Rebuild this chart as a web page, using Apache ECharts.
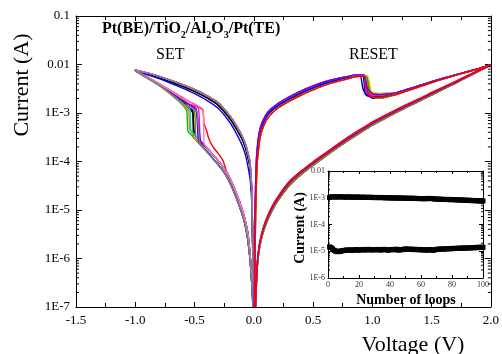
<!DOCTYPE html>
<html><head><meta charset="utf-8">
<script src="https://cdn.jsdelivr.net/npm/echarts@6/dist/echarts.min.js"></script>
<style>html,body{margin:0;padding:0;background:#fff}#c{width:502px;height:354px}</style>
</head><body><div id="c"></div>
<script>
// ---------- Main I-V data (Voltage V, Current A) ----------
// Left HRS forward branches (0 -> negative), two variants of the band
const hrsLeftA = [[-0.005,1e-7],[-0.012,2.5e-7],[-0.02,5e-7],[-0.03,1.1e-6],[-0.04,2e-6],[-0.05,3.3e-6],[-0.075,6.5e-6],[-0.1,1.05e-5],[-0.15,2.3e-5],[-0.2,4.4e-5],[-0.25,7.2e-5],[-0.3,1.03e-4],[-0.35,1.42e-4],[-0.4,1.95e-4],[-0.45,2.65e-4],[-0.5,3.6e-4],[-0.55,4.8e-4]];
const hrsLeftB = [[-0.007,1e-7],[-0.015,2.5e-7],[-0.024,5.5e-7],[-0.034,1.1e-6],[-0.044,1.8e-6],[-0.055,2.9e-6],[-0.08,5.8e-6],[-0.105,9.2e-6],[-0.155,2e-5],[-0.205,3.8e-5],[-0.255,6.2e-5],[-0.305,8.9e-5],[-0.355,1.23e-4],[-0.405,1.7e-4],[-0.455,2.3e-4],[-0.505,3.1e-4],[-0.555,4.2e-4]];

// SET paths per cycle (after leaving the HRS branch, up to -1.0 V)
const setBlack   = [[-0.51,7e-4],[-0.515,1.1e-3],[-0.56,1.35e-3],[-0.6,1.75e-3],[-0.7,2.6e-3],[-0.8,3.85e-3],[-0.9,5.4e-3],[-1.0,7.6e-3]];
const setRed     = [[-0.23,6.2e-5],[-0.26,1.05e-4],[-0.3,1.45e-4],[-0.35,2.1e-4],[-0.38,3e-4],[-0.4,4.5e-4],[-0.42,6e-4],[-0.43,1.15e-3],[-0.5,1.5e-3],[-0.6,2.05e-3],[-0.7,2.9e-3],[-0.8,4.1e-3],[-0.9,5.6e-3],[-1.0,7.7e-3]];
const setGreen   = [[-0.565,1.1e-3],[-0.6,1.45e-3],[-0.7,2.4e-3],[-0.8,3.7e-3],[-0.9,5.25e-3],[-1.0,7.5e-3]];
const setBlue    = [[-0.47,3.3e-4],[-0.48,9e-4],[-0.49,1.25e-3],[-0.55,1.5e-3],[-0.6,1.85e-3],[-0.7,2.7e-3],[-0.8,3.95e-3],[-0.9,5.5e-3],[-1.0,7.6e-3]];
const setCyan    = [[-0.53,4.3e-4],[-0.54,1.2e-3],[-0.6,1.6e-3],[-0.7,2.55e-3],[-0.8,3.8e-3],[-0.9,5.35e-3],[-1.0,7.6e-3]];
const setMagenta = [[-0.46,7.5e-4],[-0.47,1.3e-3],[-0.55,1.55e-3],[-0.6,1.9e-3],[-0.7,2.8e-3],[-0.8,4e-3],[-0.9,5.5e-3],[-1.0,7.7e-3]];
const setYellow  = [[-0.52,1.15e-3],[-0.6,1.65e-3],[-0.7,2.5e-3],[-0.8,3.75e-3],[-0.9,5.3e-3],[-1.0,7.5e-3]];
const setOlive   = [[-0.49,3.4e-4],[-0.5,1.1e-3],[-0.56,1.4e-3],[-0.6,1.75e-3],[-0.7,2.65e-3],[-0.8,3.9e-3],[-0.9,5.4e-3],[-1.0,7.6e-3]];
const setNavy    = [[-0.51,3.3e-4],[-0.515,1e-3],[-0.6,1.6e-3],[-0.7,2.55e-3],[-0.8,3.8e-3],[-0.9,5.35e-3],[-1.0,7.55e-3]];
const setPurple  = [[-0.48,1e-3],[-0.5,1.25e-3],[-0.6,1.8e-3],[-0.7,2.7e-3],[-0.8,3.95e-3],[-0.9,5.45e-3],[-1.0,7.6e-3]];
const setOrange  = [[-0.52,3.8e-4],[-0.54,4.5e-4],[-0.545,7e-4],[-0.55,1.1e-3],[-0.6,1.5e-3],[-0.7,2.45e-3],[-0.8,3.75e-3],[-0.9,5.3e-3],[-1.0,7.5e-3]];
const setPink    = [[-0.42,2.4e-4],[-0.43,1.2e-3],[-0.5,1.55e-3],[-0.6,2e-3],[-0.7,2.85e-3],[-0.8,4.05e-3],[-0.9,5.55e-3],[-1.0,7.7e-3]];
const setGray    = [[-0.47,6e-4],[-0.48,1.1e-3],[-0.6,1.55e-3],[-0.7,2.45e-3],[-0.8,3.75e-3],[-0.9,5.3e-3],[-1.0,7.6e-3]];

// Left LRS return branches (-1.0 -> 0)
const retLeftA = [[-1.0,7.8e-3],[-0.9,6.7e-3],[-0.8,5.7e-3],[-0.7,4.7e-3],[-0.6,3.85e-3],[-0.5,3.05e-3],[-0.4,2.3e-3],[-0.3,1.62e-3],[-0.2,8.6e-4],[-0.15,5.6e-4],[-0.1,3.4e-4],[-0.07,2.25e-4],[-0.05,1.5e-4],[-0.035,1.05e-4],[-0.025,6e-5],[-0.018,2.8e-5],[-0.013,1e-5],[-0.009,1.5e-6],[-0.006,1e-7]];
const retLeftB = [[-1.0,7.6e-3],[-0.9,6.4e-3],[-0.8,5.4e-3],[-0.7,4.4e-3],[-0.6,3.55e-3],[-0.5,2.8e-3],[-0.4,2.1e-3],[-0.3,1.45e-3],[-0.2,7.6e-4],[-0.15,4.9e-4],[-0.1,2.95e-4],[-0.07,1.9e-4],[-0.05,1.25e-4],[-0.035,8.5e-5],[-0.025,5e-5],[-0.018,2.3e-5],[-0.013,8e-6],[-0.009,1.2e-6],[-0.006,1e-7]];
const retLeftBlue = [[-1.0,7.5e-3],[-0.9,6.2e-3],[-0.8,5.1e-3],[-0.7,4.1e-3],[-0.6,3.25e-3],[-0.5,2.5e-3],[-0.4,1.85e-3],[-0.3,1.25e-3],[-0.2,6.3e-4],[-0.15,3.9e-4],[-0.1,2.2e-4],[-0.07,1.35e-4],[-0.05,8e-5],[-0.035,5e-5],[-0.025,3e-5],[-0.018,1.5e-5],[-0.012,5e-6],[-0.007,8e-7],[-0.004,1e-7]];

// Right LRS forward branches (0 -> 0.8 V)
const lrsRightTop = [[0.004,1e-7],[0.007,1.5e-6],[0.011,1.1e-5],[0.016,4e-5],[0.022,1.1e-4],[0.032,2.2e-4],[0.047,4.1e-4],[0.075,6.8e-4],[0.12,1.05e-3],[0.2,1.55e-3],[0.3,2.15e-3],[0.4,2.85e-3],[0.5,3.6e-3],[0.6,4.4e-3],[0.7,5.1e-3],[0.8,5.7e-3]];
const lrsRightMid = [[0.006,1e-7],[0.009,1.5e-6],[0.013,1e-5],[0.018,3.5e-5],[0.025,1e-4],[0.035,2e-4],[0.05,3.7e-4],[0.08,6.2e-4],[0.12,9.5e-4],[0.2,1.4e-3],[0.3,1.95e-3],[0.4,2.6e-3],[0.5,3.3e-3],[0.6,4.1e-3],[0.7,4.8e-3],[0.8,5.4e-3]];
const lrsRightLow = [[0.008,1e-7],[0.011,1.5e-6],[0.016,9e-6],[0.021,3e-5],[0.028,9e-5],[0.04,1.8e-4],[0.055,3.3e-4],[0.085,5.6e-4],[0.13,8.6e-4],[0.2,1.25e-3],[0.3,1.75e-3],[0.4,2.35e-3],[0.5,3.0e-3],[0.6,3.75e-3],[0.7,4.45e-3],[0.8,5.1e-3]];

// RESET paths per cycle (0.85 -> ~1.1 V)
const resetBlack   = [[0.85,5.9e-3],[0.92,6e-3],[0.95,3.5e-3],[0.97,2.4e-3],[1.02,2.2e-3],[1.1,2.3e-3]];
const resetRed     = [[0.85,5.5e-3],[0.93,5.8e-3],[0.95,3e-3],[0.98,2.2e-3],[1.05,2.1e-3],[1.1,2.2e-3]];
const resetGreen   = [[0.85,5.9e-3],[0.95,5.9e-3],[0.98,3e-3],[1.0,2.5e-3],[1.05,2.3e-3],[1.1,2.35e-3]];
const resetBlue    = [[0.85,5.8e-3],[0.92,5.9e-3],[0.94,2.6e-3],[1.0,2.0e-3],[1.08,2.05e-3],[1.15,2.3e-3]];
const resetCyan    = [[0.85,6e-3],[0.94,6e-3],[0.96,3e-3],[1.0,2.6e-3],[1.06,2.5e-3],[1.12,2.6e-3]];
const resetMagenta = [[0.85,6e-3],[0.93,5.9e-3],[0.95,2.8e-3],[1.0,2.3e-3],[1.05,2.3e-3],[1.1,2.4e-3]];
const resetYellow  = [[0.85,5.6e-3],[0.96,5.9e-3],[0.99,2.9e-3],[1.03,2.6e-3],[1.08,2.55e-3],[1.15,2.6e-3]];
const resetOlive   = [[0.85,5.6e-3],[0.95,5.7e-3],[0.98,2.5e-3],[1.03,2.0e-3],[1.08,2.0e-3],[1.15,2.2e-3]];
const resetNavy    = [[0.85,5.9e-3],[0.9,5.8e-3],[0.92,3.2e-3],[0.95,2.3e-3],[1.0,2.15e-3],[1.1,2.25e-3]];
const resetPurple  = [[0.85,6.1e-3],[0.93,6.1e-3],[0.96,3.2e-3],[1.0,2.5e-3],[1.05,2.4e-3],[1.1,2.45e-3]];
const resetOrange  = [[0.85,5.8e-3],[0.94,5.8e-3],[0.97,2.7e-3],[1.02,2.2e-3],[1.08,2.2e-3],[1.15,2.35e-3]];
const resetPink    = [[0.85,5.9e-3],[0.93,5.9e-3],[0.96,2.9e-3],[1.01,2.35e-3],[1.07,2.3e-3],[1.12,2.4e-3]];
const resetGray    = [[0.85,5.8e-3],[0.94,5.9e-3],[0.97,2.8e-3],[1.02,2.3e-3],[1.07,2.3e-3],[1.12,2.4e-3]];

// HRS forward after RESET (1.2 -> 2.0 V)
const tailA = [[1.2,2.6e-3],[1.3,3.1e-3],[1.4,3.7e-3],[1.5,4.4e-3],[1.6,5.2e-3],[1.7,6.1e-3],[1.8,7.1e-3],[1.9,8.3e-3],[2.0,9.8e-3]];
const tailB = [[1.2,2.4e-3],[1.3,2.9e-3],[1.4,3.5e-3],[1.5,4.25e-3],[1.6,5.05e-3],[1.7,6e-3],[1.8,7e-3],[1.9,8.25e-3],[2.0,9.8e-3]];

// HRS return branches (2.0 -> 0)
const retRightA = [[2.0,9.8e-3],[1.9,7.5e-3],[1.8,5.7e-3],[1.7,4.3e-3],[1.6,3.3e-3],[1.5,2.5e-3],[1.4,1.9e-3],[1.3,1.45e-3],[1.2,1.1e-3],[1.1,8.2e-4],[1.0,6.1e-4],[0.9,4.3e-4],[0.8,3.0e-4],[0.7,2.05e-4],[0.6,1.38e-4],[0.5,9.2e-5],[0.4,6e-5],[0.3,3.6e-5],[0.2,1.7e-5],[0.15,1.05e-5],[0.1,5.6e-6],[0.07,3.3e-6],[0.05,2e-6],[0.035,1.1e-6],[0.025,5e-7],[0.018,2e-7],[0.013,1e-7]];
const retRightHigh = [[2.0,9.8e-3],[1.9,7.7e-3],[1.8,5.9e-3],[1.7,4.5e-3],[1.6,3.45e-3],[1.5,2.65e-3],[1.4,2.0e-3],[1.3,1.55e-3],[1.2,1.18e-3],[1.1,8.8e-4],[1.0,6.6e-4],[0.9,4.65e-4],[0.8,3.25e-4],[0.7,2.2e-4],[0.6,1.48e-4],[0.5,9.9e-5],[0.4,6.4e-5],[0.3,3.9e-5],[0.2,1.85e-5],[0.15,1.15e-5],[0.1,6.1e-6],[0.07,3.6e-6],[0.05,2.2e-6],[0.035,1.2e-6],[0.025,5.5e-7],[0.017,2e-7],[0.012,1e-7]];
const retRightLow = [[2.0,9.8e-3],[1.9,7.3e-3],[1.8,5.5e-3],[1.7,4.1e-3],[1.6,3.1e-3],[1.5,2.35e-3],[1.4,1.78e-3],[1.3,1.35e-3],[1.2,1.02e-3],[1.1,7.6e-4],[1.0,5.6e-4],[0.9,3.95e-4],[0.8,2.75e-4],[0.7,1.88e-4],[0.6,1.26e-4],[0.5,8.4e-5],[0.4,5.4e-5],[0.3,3.2e-5],[0.2,1.5e-5],[0.15,9.2e-6],[0.1,4.9e-6],[0.07,2.9e-6],[0.05,1.75e-6],[0.035,9.5e-7],[0.025,4.5e-7],[0.02,2e-7],[0.016,1e-7]];

// ---------- Inset endurance data ----------
const loops = [];
for (let i = 1; i <= 100; i++) loops.push(i);
const lrsCurrent_e4 = [10.2,10.8,10.9,10.7,10.8,10.6,10.9,10.7,10.8,10.6,
 10.7,10.5,10.8,10.6,10.7,10.4,10.6,10.5,10.7,10.4,
 10.5,10.3,10.6,10.4,10.2,10.5,10.3,10.4,10.1,10.3,
 10.2,10.0,10.3,10.1,10.2,9.9,10.1,10.0,9.8,10.0,
 9.9,9.7,9.9,9.8,9.6,9.9,9.7,9.8,9.5,9.7,
 9.6,9.4,9.7,9.5,9.6,9.3,9.5,9.4,9.2,9.4,
 9.3,9.1,9.4,9.2,9.5,9.3,9.4,9.1,8.9,9.0,
 8.8,8.9,8.7,8.8,8.6,8.7,8.5,8.7,8.4,8.6,
 8.5,8.3,8.5,8.2,8.4,8.1,8.3,8.0,8.2,7.9,
 8.1,7.8,8.0,7.7,7.9,7.6,7.8,7.5,7.7,7.6];
const hrsCurrent_e6 = [14.5,13.8,12.2,10.8,10.0,9.6,10.2,9.8,10.4,10.6,
 10.9,11.2,10.8,11.4,11.0,10.7,11.3,11.6,11.1,10.9,
 11.4,11.2,11.7,11.0,11.5,11.8,11.3,11.1,11.6,11.4,
 11.2,11.7,11.5,11.0,11.3,11.8,11.6,11.2,10.9,11.5,
 11.3,11.7,11.4,11.9,11.2,11.0,11.6,11.4,11.8,12.2,
 12.0,11.7,12.1,11.8,11.5,11.9,11.6,11.3,11.7,11.4,
 11.1,11.5,11.2,10.9,11.3,11.6,11.0,10.8,11.4,11.7,
 12.0,11.8,12.3,12.1,11.9,12.4,12.2,12.6,12.3,12.8,
 12.5,12.9,12.7,13.1,12.8,13.2,12.9,13.4,13.0,13.3,
 13.5,13.2,13.7,13.4,13.9,13.5,14.1,13.8,14.3,14.0];

// Tick labels
const xTickLabels = ['-1.5','-1.0','-0.5','0.0','0.5','1.0','1.5','2.0'];
const yTickLabels = {'-7':'1E-7','-6':'1E-6','-5':'1E-5','-4':'1E-4','-3':'1E-3','-2':'0.01','-1':'0.1'};

// ---------- cycle assembly ----------
const cycles = {
  black:   {color:'#000000', hrs:hrsLeftA, n:16, set:setBlack,   retL:retLeftB,   lrs:lrsRightMid, reset:resetBlack,   tail:tailA, retR:retRightA},
  red:     {color:'#ff0000', hrs:hrsLeftA, n:10, set:setRed,     retL:retLeftA,   lrs:lrsRightLow, reset:resetRed,     tail:tailB, retR:retRightHigh},
  green:   {color:'#00c400', hrs:hrsLeftB, n:17, set:setGreen,   retL:retLeftB,   lrs:lrsRightMid, reset:resetGreen,   tail:tailA, retR:retRightA},
  blue:    {color:'#0000ff', hrs:hrsLeftB, n:15, set:setBlue,    retL:retLeftBlue,lrs:lrsRightMid, reset:resetBlue,    tail:tailB, retR:retRightLow},
  cyan:    {color:'#00d8d8', hrs:hrsLeftA, n:16, set:setCyan,    retL:retLeftA,   lrs:lrsRightTop, reset:resetCyan,    tail:tailA, retR:retRightA},
  magenta: {color:'#ff00ff', hrs:hrsLeftA, n:15, set:setMagenta, retL:retLeftA,   lrs:lrsRightTop, reset:resetMagenta, tail:tailA, retR:retRightA},
  yellow:  {color:'#e0e000', hrs:hrsLeftB, n:16, set:setYellow,  retL:retLeftB,   lrs:lrsRightLow, reset:resetYellow,  tail:tailB, retR:retRightLow},
  olive:   {color:'#808000', hrs:hrsLeftA, n:15, set:setOlive,   retL:retLeftB,   lrs:lrsRightLow, reset:resetOlive,   tail:tailB, retR:retRightLow},
  navy:    {color:'#000080', hrs:hrsLeftB, n:16, set:setNavy,    retL:retLeftB,   lrs:lrsRightMid, reset:resetNavy,    tail:tailA, retR:retRightLow},
  purple:  {color:'#8000c0', hrs:hrsLeftA, n:15, set:setPurple,  retL:retLeftA,   lrs:lrsRightTop, reset:resetPurple,  tail:tailA, retR:retRightA},
  orange:  {color:'#ff8000', hrs:hrsLeftB, n:16, set:setOrange,  retL:retLeftB,   lrs:lrsRightLow, reset:resetOrange,  tail:tailB, retR:retRightA},
  pink:    {color:'#ff80c0', hrs:hrsLeftA, n:14, set:setPink,    retL:retLeftA,   lrs:lrsRightTop, reset:resetPink,    tail:tailA, retR:retRightA},
  gray:    {color:'#808080', hrs:hrsLeftB, n:15, set:setGray,    retL:retLeftA,   lrs:lrsRightMid, reset:resetGray,    tail:tailA, retR:retRightA}
};
const leftOrder  = ['red','green','yellow','olive','navy','orange','black','cyan','blue','magenta','purple','pink','gray'];
const rightOrder = ['gray','pink','orange','navy','black','green','cyan','blue','yellow','olive','magenta','purple','red'];

const FONT = "'Liberation Serif','Times New Roman',serif";
const series = [];
leftOrder.forEach(k => {
  const c = cycles[k];
  series.push({type:'line', xAxisIndex:0, yAxisIndex:0, showSymbol:false, silent:true, smooth:0.15,
    data: c.hrs.slice(0, c.n).concat(c.set, c.retL),
    lineStyle:{color:c.color, width:1.4}, z:3});
});
rightOrder.forEach(k => {
  const c = cycles[k];
  series.push({type:'line', xAxisIndex:0, yAxisIndex:0, showSymbol:false, silent:true, smooth:0.15,
    data: c.lrs.concat(c.reset, c.tail, c.retR),
    lineStyle:{color:c.color, width:1.4}, z:3});
});
series.push({type:'line', xAxisIndex:2, yAxisIndex:2, symbol:'rect', symbolSize:5, silent:true,
  data: loops.map((l,i) => [l, lrsCurrent_e4[i]*1e-4]), itemStyle:{color:'#000'}, lineStyle:{color:'#000', width:2}, z:5});
series.push({type:'line', xAxisIndex:2, yAxisIndex:2, symbol:'rect', symbolSize:5, silent:true,
  data: loops.map((l,i) => [l, hrsCurrent_e6[i]*1e-6]), itemStyle:{color:'#000'}, lineStyle:{color:'#000', width:2}, z:5});

// log minor ticks (decorations)
function minorLog(e0, e1){ const a=[]; for(let e=e0;e<e1;e++){ for(let k=2;k<=9;k++) a.push(k*Math.pow(10,e)); } return a; }
function tickRenderer(xa, xb, len){
  return function(params, api){
    const v = api.value(1);
    const p1 = api.coord([xa, v]); const p2 = api.coord([xb, v]);
    return {type:'group', children:[
      {type:'line', shape:{x1:p1[0], y1:p1[1], x2:p1[0]+len, y2:p1[1]}, style:{stroke:'#000', lineWidth:1}},
      {type:'line', shape:{x1:p2[0]-len, y1:p2[1], x2:p2[0], y2:p2[1]}, style:{stroke:'#000', lineWidth:1}}
    ]};
  };
}
series.push({type:'custom', xAxisIndex:0, yAxisIndex:0, silent:true, clip:false, z:6,
  data: minorLog(-7,-1).map(v => [-1.5, v]), renderItem: tickRenderer(-1.5, 2.0, 3)});
series.push({type:'custom', xAxisIndex:2, yAxisIndex:2, silent:true, clip:false, z:6,
  data: minorLog(-6,-2).map(v => [0, v]), renderItem: tickRenderer(0, 100, 2)});

function logFmt(v){ const e = Math.round(Math.log10(v)); return yTickLabels[String(e)] || ''; }
function xFmt(v){ const i = Math.round((v + 1.5) / 0.5); return xTickLabels[i] || ''; }

const axLine = {show:true, onZero:false, lineStyle:{color:'#000', width:1}};
const option = {
  backgroundColor:'#fff',
  animation:false,
  grid:[
    {left:76, top:16, width:415, height:291, show:false},
    {left:328, top:171, width:155, height:107, show:true, backgroundColor:'#fff', borderWidth:0, z:4}
  ],
  xAxis:[
    {type:'value', gridIndex:0, position:'bottom', min:-1.5, max:2.0, interval:0.5, axisLine:axLine,
     axisTick:{inside:true, length:5, lineStyle:{color:'#000'}}, minorTick:{show:true, splitNumber:2, length:4, lineStyle:{color:'#000'}},
     splitLine:{show:false}, axisLabel:{formatter:xFmt, fontFamily:FONT, fontSize:13, color:'#000', margin:7}},
    {type:'value', gridIndex:0, position:'top', min:-1.5, max:2.0, interval:0.5, axisLine:axLine,
     axisTick:{inside:true, length:5, lineStyle:{color:'#000'}}, minorTick:{show:true, splitNumber:2, length:4, lineStyle:{color:'#000'}},
     splitLine:{show:false}, axisLabel:{show:false}},
    {type:'value', gridIndex:1, position:'bottom', min:0, max:100, interval:20, axisLine:axLine,
     axisTick:{inside:true, length:3, lineStyle:{color:'#000'}}, minorTick:{show:true, splitNumber:2, length:2, lineStyle:{color:'#000'}},
     splitLine:{show:false}, axisLabel:{fontFamily:FONT, fontSize:8, color:'#333', margin:3}, z:5},
    {type:'value', gridIndex:1, position:'top', min:0, max:100, interval:20, axisLine:axLine,
     axisTick:{inside:true, length:3, lineStyle:{color:'#000'}}, minorTick:{show:true, splitNumber:2, length:2, lineStyle:{color:'#000'}},
     splitLine:{show:false}, axisLabel:{show:false}, z:5}
  ],
  yAxis:[
    {type:'log', logBase:10, gridIndex:0, position:'left', min:1e-7, max:0.1, interval:1, axisLine:axLine,
     axisTick:{inside:true, length:6, lineStyle:{color:'#000'}}, splitLine:{show:false},
     axisLabel:{formatter:logFmt, fontFamily:FONT, fontSize:13, color:'#000', margin:6}},
    {type:'log', logBase:10, gridIndex:0, position:'right', min:1e-7, max:0.1, interval:1, axisLine:axLine,
     axisTick:{inside:true, length:6, lineStyle:{color:'#000'}}, splitLine:{show:false}, axisLabel:{show:false}},
    {type:'log', logBase:10, gridIndex:1, position:'left', min:1e-6, max:0.01, interval:1, axisLine:axLine,
     axisTick:{inside:true, length:4, lineStyle:{color:'#000'}}, splitLine:{show:false},
     axisLabel:{formatter:logFmt, fontFamily:FONT, fontSize:8, color:'#333', margin:3}, z:5},
    {type:'log', logBase:10, gridIndex:1, position:'right', min:1e-6, max:0.01, interval:1, axisLine:axLine,
     axisTick:{inside:true, length:4, lineStyle:{color:'#000'}}, splitLine:{show:false}, axisLabel:{show:false}, z:5}
  ],
  graphic:[
    {type:'text', left:102, top:21, z:10, style:{
      text:'{b|Pt(BE)/TiO}{s|2}{b|/Al}{s|2}{b|O}{s|3}{b|/Pt(TE)}',
      rich:{
        b:{fontFamily:FONT, fontWeight:'bold', fontSize:16, lineHeight:22, fill:'#000', verticalAlign:'middle'},
        s:{fontFamily:FONT, fontWeight:'bold', fontSize:10, lineHeight:22, fill:'#000', verticalAlign:'bottom'}
      }}},
    {type:'text', left:156, top:47, z:10, style:{text:'SET', fontFamily:FONT, fontSize:16, fill:'#000'}},
    {type:'text', left:349, top:47, z:10, style:{text:'RESET', fontFamily:FONT, fontSize:16, fill:'#000'}},
    {type:'text', x:413, y:345, z:10, style:{text:'Voltage (V)', fontFamily:FONT, fontSize:22, fill:'#000', align:'center', verticalAlign:'middle'}},
    {type:'text', x:22, y:85, rotation:Math.PI/2, z:10, style:{text:'Current (A)', fontFamily:FONT, fontSize:22, fill:'#000', align:'center', verticalAlign:'middle'}},
    {type:'text', x:300, y:228, rotation:Math.PI/2, z:10, style:{text:'Current (A)', fontFamily:FONT, fontWeight:'bold', fontSize:14, fill:'#000', align:'center', verticalAlign:'middle'}},
    {type:'text', x:406, y:300, z:10, style:{text:'Number of loops', fontFamily:FONT, fontWeight:'bold', fontSize:14, fill:'#000', align:'center', verticalAlign:'middle'}}
  ],
  series: series
};
const chart = echarts.init(document.getElementById('c'), null, {renderer:'canvas'});
chart.setOption(option);
</script>
</body></html>
